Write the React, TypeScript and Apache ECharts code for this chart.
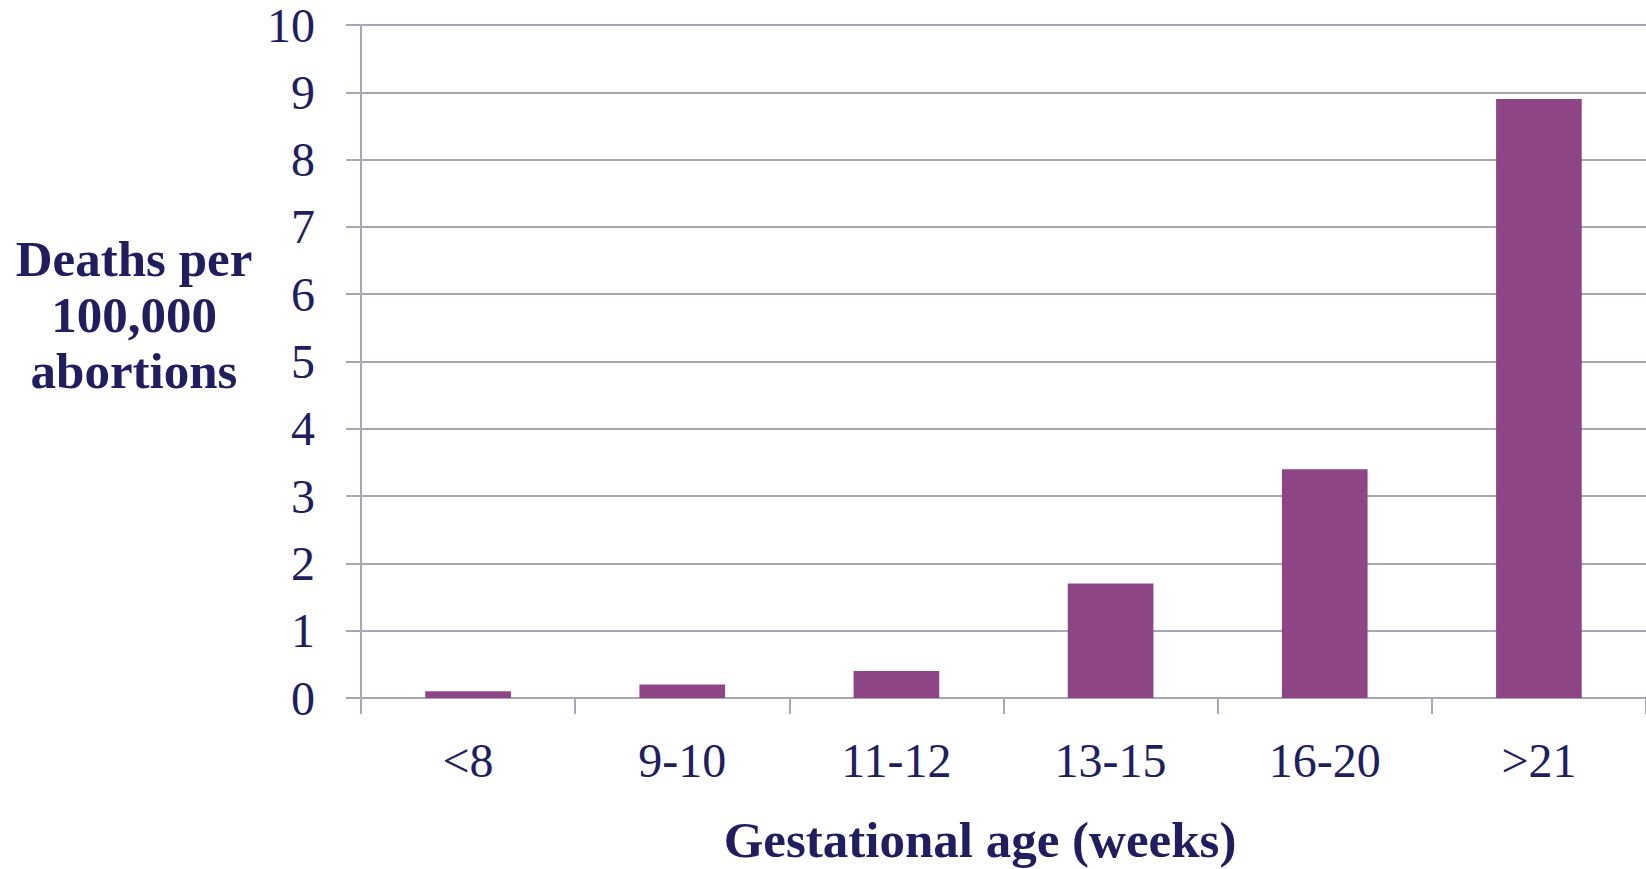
import React, { useEffect, useRef } from "react";
import * as echarts from "echarts";

const categories = ["<8", "9-10", "11-12", "13-15", "16-20", ">21"];
const deathsPer100k = [0.1, 0.2, 0.4, 1.7, 3.4, 8.9];
const yTicks = [0, 10, 1]; // min, max, interval
const yTitleLines = ["Deaths per", "100,000", "abortions"];
const xTitle = "Gestational age (weeks)";

const TEXT = "#211E60";
const GRID = "#A8A5B8";
const BAR = "#8E4585";
const FONT = "'Liberation Serif', 'DejaVu Serif', serif";

export default function App() {
  const ref = useRef<HTMLDivElement>(null);
  useEffect(() => {
    if (!ref.current) return;
    const chart = echarts.init(ref.current, undefined, { renderer: "svg" });
    chart.setOption({
      animation: false,
      backgroundColor: "#ffffff",
      grid: { left: 361, right: -1, top: 25, bottom: 171, containLabel: false },
      xAxis: {
        type: "category",
        data: categories,
        axisLine: { show: true, lineStyle: { color: GRID, width: 2 } },
        axisTick: { show: true, length: 16, lineStyle: { color: GRID, width: 2 } },
        axisLabel: { color: TEXT, fontFamily: FONT, fontSize: 48, margin: 38 },
      },
      yAxis: {
        type: "value",
        min: yTicks[0],
        max: yTicks[1],
        interval: yTicks[2],
        axisLine: { show: true, lineStyle: { color: GRID, width: 2 } },
        axisTick: { show: true, length: 15, lineStyle: { color: GRID, width: 2 } },
        splitLine: { show: true, lineStyle: { color: GRID, width: 2 } },
        axisLabel: { color: TEXT, fontFamily: FONT, fontSize: 48, margin: 46 },
      },
      graphic: [
        {
          type: "text",
          x: 134,
          y: 315,
          style: {
            text: yTitleLines.join("\n"),
            fill: TEXT,
            font: `bold 51px ${FONT}`,
            lineHeight: 56,
            align: "center",
            verticalAlign: "middle",
          },
        },
        {
          type: "text",
          x: 980,
          y: 840,
          style: {
            text: xTitle,
            fill: TEXT,
            font: `bold 51px ${FONT}`,
            lineHeight: 52,
            align: "center",
            verticalAlign: "middle",
          },
        },
      ],
      series: [
        {
          type: "bar",
          data: deathsPer100k,
          barWidth: "40%",
          itemStyle: { color: BAR },
        },
      ],
    });
    return () => chart.dispose();
  }, []);
  return (
    <div
      ref={ref}
      style={{ position: "fixed", left: 0, top: 0, width: 1646, height: 869, background: "#fff" }}
    />
  );
}
